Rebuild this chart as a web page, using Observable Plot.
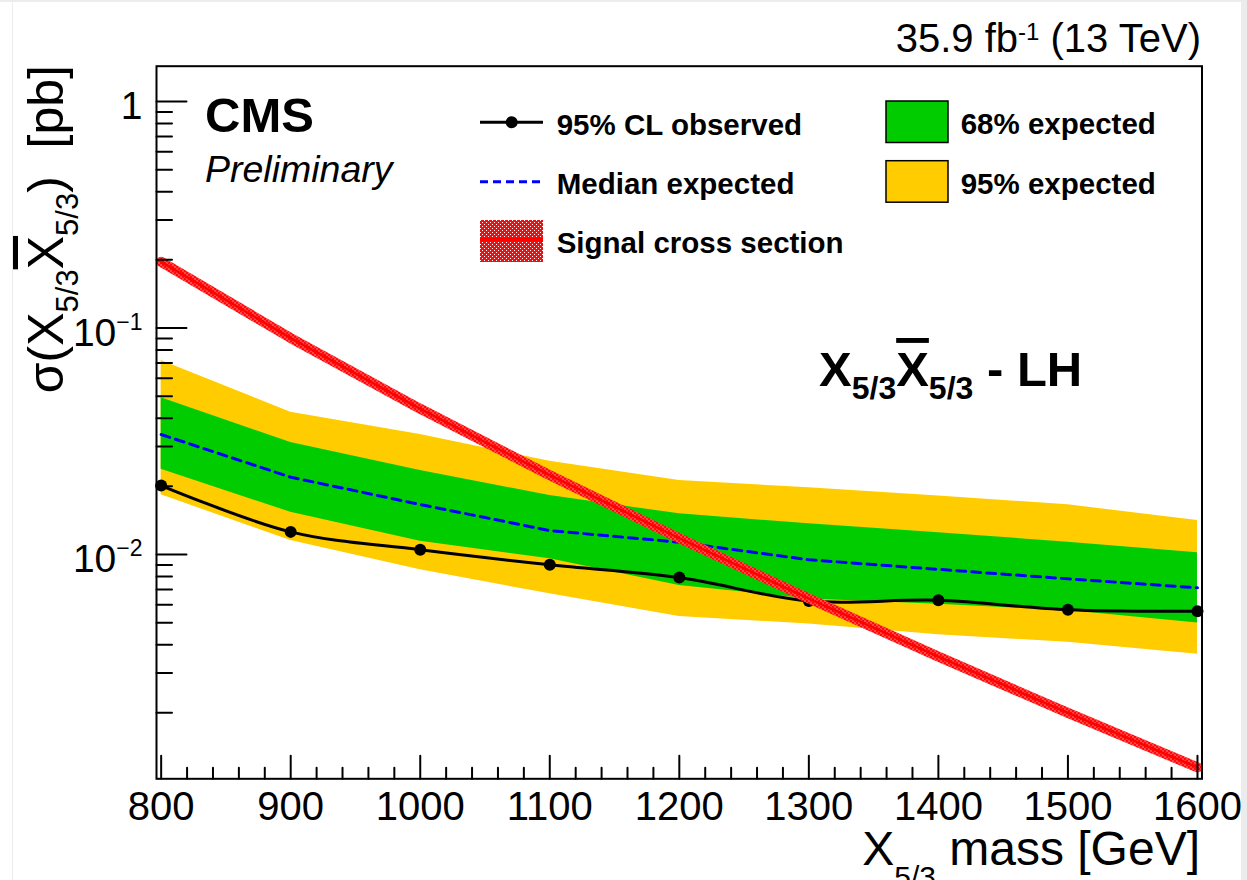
<!DOCTYPE html>
<html>
<head>
<meta charset="utf-8">
<script src="https://cdn.jsdelivr.net/npm/d3@7"></script>
<script src="https://cdn.jsdelivr.net/npm/@observablehq/plot@0.6"></script>
<style>
html, body { margin: 0; padding: 0; background: #fff; }
#chart { position: relative; width: 1247px; height: 880px; overflow: hidden; }
.edge { position: absolute; background: #ececec; }
</style>
</head>
<body>
<div id="chart"></div>
<script>
// ---- data ----
const masses = [800, 900, 1000, 1100, 1200, 1300, 1400, 1500, 1600];
const observed = [0.02016, 0.01259, 0.01049, 0.00901, 0.00791, 0.00623, 0.00628, 0.00570, 0.00562];
const expectedMedian = [0.03387, 0.02195, 0.01663, 0.01276, 0.01133, 0.00948, 0.00860, 0.00781, 0.00713];
const expected68Up = [0.04917, 0.03123, 0.02349, 0.01822, 0.01512, 0.01366, 0.01248, 0.01133, 0.01017];
const expected68Down = [0.02380, 0.01537, 0.01145, 0.00957, 0.00730, 0.00637, 0.00603, 0.00566, 0.00499];
const expected95Up = [0.07186, 0.04249, 0.03387, 0.02582, 0.02121, 0.01970, 0.01813, 0.01658, 0.01413];
const expected95Down = [0.01835, 0.01153, 0.00856, 0.00671, 0.00532, 0.00494, 0.00442, 0.00410, 0.00363];
const signalXsec = [0.196, 0.0903, 0.0440, 0.0224, 0.0118, 0.00639, 0.00354, 0.00200, 0.001148];

const xMajorTicks = [800, 900, 1000, 1100, 1200, 1300, 1400, 1500, 1600];
const xMinorTicks = [820, 840, 860, 880, 920, 940, 960, 980, 1020, 1040, 1060, 1080,
  1120, 1140, 1160, 1180, 1220, 1240, 1260, 1280, 1320, 1340, 1360, 1380,
  1420, 1440, 1460, 1480, 1520, 1540, 1560, 1580];
const yMajorTicks = [1, 0.1, 0.01];
const yMinorTicks = [0.002, 0.003, 0.004, 0.005, 0.006, 0.007, 0.008, 0.009,
  0.02, 0.03, 0.04, 0.05, 0.06, 0.07, 0.08, 0.09,
  0.2, 0.3, 0.4, 0.5, 0.6, 0.7, 0.8, 0.9];
const xDomain = [796.4, 1603.5];
const yDomain = [1.023e-3, 1.432];

const rows = masses.map((m, i) => ({
  mass: m, obs: observed[i], exp: expectedMedian[i],
  hi68: expected68Up[i], lo68: expected68Down[i],
  hi95: expected95Up[i], lo95: expected95Down[i], sig: signalXsec[i]
}));

const tickShape = { draw(ctx, l) { ctx.moveTo(0, 0); ctx.lineTo(0, -l); } };
const FONT = "'Liberation Sans', Arial, Helvetica, sans-serif";

const plot = Plot.plot({
  width: 1247, height: 880,
  marginLeft: 156, marginRight: 45.5, marginTop: 65.7, marginBottom: 101.7,
  style: { fontFamily: FONT, fontSize: "40px", color: "black", background: "white" },
  x: { type: "linear", domain: xDomain },
  y: { type: "log", domain: yDomain },
  marks: [
    Plot.areaY(rows, { x: "mass", y1: "lo95", y2: "hi95", fill: "#ffcc00" }),
    Plot.areaY(rows, { x: "mass", y1: "lo68", y2: "hi68", fill: "#00cc00" }),
    Plot.line(rows, { x: "mass", y: "exp", stroke: "#0000ff", strokeWidth: 3, strokeDasharray: "9,6" }),
    Plot.line(rows, { x: "mass", y: "obs", stroke: "black", strokeWidth: 3, curve: "catmull-rom" }),
    Plot.dot(rows, { x: "mass", y: "obs", r: 6, fill: "black" }),
    Plot.line(rows, { x: "mass", y: "sig", stroke: "url(#redhatch)", strokeWidth: 10 }),
    Plot.line(rows, { x: "mass", y: "sig", stroke: "#ff0000", strokeWidth: 2.5 }),
    Plot.vector(yMajorTicks, { y: d => d, frameAnchor: "left", length: 30, rotate: 90, anchor: "start", shape: tickShape, stroke: "black", strokeWidth: 2 }),
    Plot.vector(yMinorTicks, { y: d => d, frameAnchor: "left", length: 15.5, rotate: 90, anchor: "start", shape: tickShape, stroke: "black", strokeWidth: 2 }),
    Plot.vector(xMajorTicks, { x: d => d, frameAnchor: "bottom", length: 23, rotate: 0, anchor: "start", shape: tickShape, stroke: "black", strokeWidth: 2 }),
    Plot.vector(xMinorTicks, { x: d => d, frameAnchor: "bottom", length: 11, rotate: 0, anchor: "start", shape: tickShape, stroke: "black", strokeWidth: 2 }),
    Plot.axisX({ ticks: xMajorTicks, tickSize: 0, tickPadding: 13, label: null, tickFormat: d => String(d), fontSize: 40 }),
    Plot.axisY({ ticks: yMajorTicks, tickSize: 0, tickPadding: 14, label: null,
      tickFormat: d => d === 1 ? "1" : "10^" + Math.round(Math.log10(d)), fontSize: 39, dy: 5 }),
    Plot.frame({ stroke: "black", strokeWidth: 2 })
  ]
});

const chart = document.getElementById("chart");
chart.appendChild(plot);
const svg = d3.select(plot);

// hatch pattern for the signal band
const defs = svg.insert("defs", ":first-child");
const pat = defs.append("pattern").attr("id", "redhatch").attr("patternUnits", "userSpaceOnUse")
  .attr("width", 4).attr("height", 4);
pat.append("rect").attr("width", 4).attr("height", 4).attr("fill", "#ff0a0a");
pat.append("rect").attr("x", 0).attr("y", 0).attr("width", 1).attr("height", 1).attr("fill", "#ffffff");
pat.append("rect").attr("x", 2).attr("y", 2).attr("width", 1).attr("height", 1).attr("fill", "#ffffff");

// superscripts on y tick labels
svg.selectAll("text").each(function () {
  const t = this.textContent;
  const m = t.match(/^10\^(-?\d+)$/);
  if (m) {
    const el = d3.select(this);
    el.text(null);
    el.append("tspan").text("10");
    el.append("tspan").attr("dy", -16).attr("font-size", 23).text(m[1].replace("-", "\u2212"));
  }
});

const g = svg.append("g").attr("font-family", FONT).attr("fill", "black").attr("text-anchor", "start");

// top-right luminosity label
const lum = g.append("text").attr("x", 1201).attr("y", 51.7).attr("text-anchor", "end").attr("font-size", 40);
lum.append("tspan").text("35.9 fb");
lum.append("tspan").attr("dy", -12).attr("font-size", 24).text("-1");
lum.append("tspan").attr("dy", 12).text(" (13 TeV)");

// CMS Preliminary
g.append("text").attr("x", 205).attr("y", 131.7).attr("font-size", 49).attr("font-weight", "bold").text("CMS");
g.append("text").attr("x", 205).attr("y", 181.7).attr("font-size", 37.5).attr("font-style", "italic").text("Preliminary");

// legend
const LF = 29.5;
const L = g.append("g");
L.append("line").attr("x1", 480).attr("x2", 543).attr("y1", 122.3).attr("y2", 122.3).attr("stroke", "black").attr("stroke-width", 3);
L.append("circle").attr("cx", 511.7).attr("cy", 122.3).attr("r", 6).attr("fill", "black");
L.append("text").attr("x", 556.7).attr("y", 135).attr("font-size", LF).attr("font-weight", "bold").text("95% CL observed");
L.append("line").attr("x1", 480).attr("x2", 543).attr("y1", 181.7).attr("y2", 181.7).attr("stroke", "#0000ff").attr("stroke-width", 3).attr("stroke-dasharray", "8,5");
L.append("text").attr("x", 556.7).attr("y", 194.3).attr("font-size", LF).attr("font-weight", "bold").text("Median expected");
L.append("rect").attr("x", 480).attr("y", 220).attr("width", 63).attr("height", 42).attr("fill", "url(#redhatch)");
L.append("line").attr("x1", 480).attr("x2", 543).attr("y1", 239.5).attr("y2", 239.5).attr("stroke", "#ff0000").attr("stroke-width", 4);
L.append("text").attr("x", 556.7).attr("y", 253).attr("font-size", LF).attr("font-weight", "bold").text("Signal cross section");
L.append("rect").attr("x", 886).attr("y", 101).attr("width", 62).attr("height", 41.5).attr("fill", "#00cc00").attr("stroke", "black").attr("stroke-width", 1.5);
L.append("text").attr("x", 960.7).attr("y", 134.3).attr("font-size", LF).attr("font-weight", "bold").text("68% expected");
L.append("rect").attr("x", 886).attr("y", 160.7).attr("width", 62).attr("height", 41.5).attr("fill", "#ffcc00").attr("stroke", "black").attr("stroke-width", 1.5);
L.append("text").attr("x", 960.7).attr("y", 194.3).attr("font-size", LF).attr("font-weight", "bold").text("95% expected");

// model annotation
const ann = g.append("text").attr("x", 819).attr("y", 386).attr("font-size", 49).attr("font-weight", "bold");
ann.append("tspan").text("X");
ann.append("tspan").attr("dy", 13).attr("font-size", 32).text("5/3");
ann.append("tspan").attr("dy", -13).style("text-decoration", "overline").text("X");
ann.append("tspan").attr("dy", 13).attr("font-size", 32).text("5/3");
ann.append("tspan").attr("dy", -13).text(" - LH");

// x-axis title
const xt = g.append("text").attr("x", 1200).attr("y", 865).attr("text-anchor", "end").attr("font-size", 48);
xt.append("tspan").text("X");
xt.append("tspan").attr("dy", 22).attr("font-size", 30).text("5/3");
xt.append("tspan").attr("dy", -22).text(" mass [GeV]");

// y-axis title
const yt = g.append("text").attr("transform", "translate(63,65) rotate(-90)").attr("text-anchor", "end").attr("font-size", 50);
yt.append("tspan").text("\u03c3(X");
yt.append("tspan").attr("dy", 15).attr("font-size", 31).text("5/3");
yt.append("tspan").attr("dy", -15).style("text-decoration", "overline").text("X");
yt.append("tspan").attr("dy", 15).attr("font-size", 31).text("5/3");
yt.append("tspan").attr("dy", -15).text(")  [pb]");

// faint page edges as in the reference screenshot
[["0px", "0px", "1247px", "2px"], ["12px", "0px", "1px", "880px"], ["1241px", "0px", "6px", "880px"]].forEach(([l, t, w, h]) => {
  const d = document.createElement("div");
  d.className = "edge";
  Object.assign(d.style, { left: l, top: t, width: w, height: h });
  chart.appendChild(d);
});
</script>
</body>
</html>
